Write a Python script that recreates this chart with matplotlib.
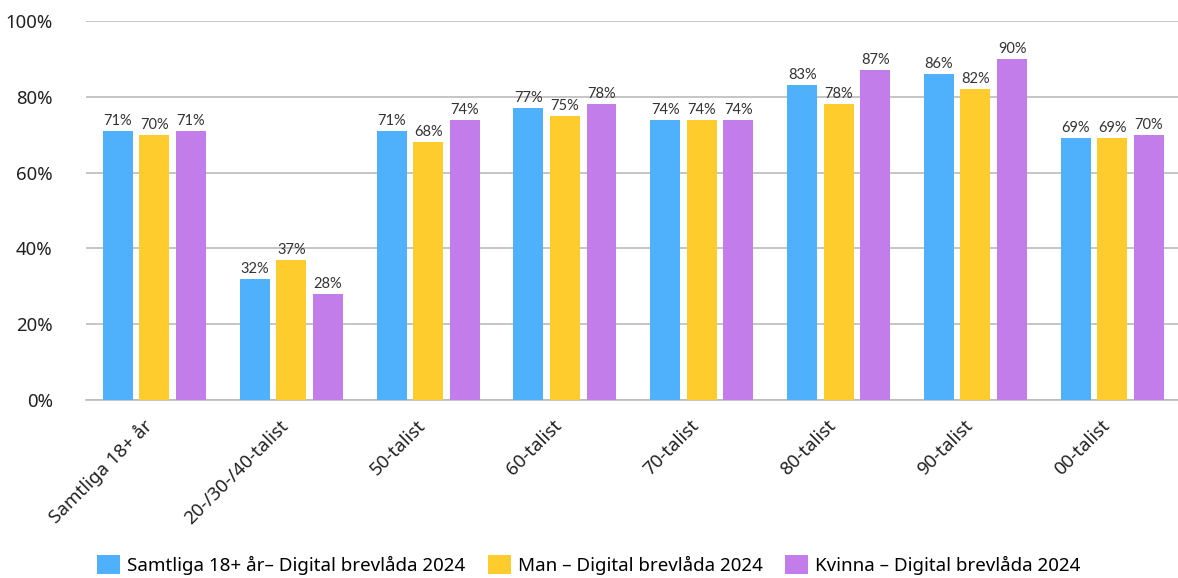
import numpy as np
import matplotlib.pyplot as plt
import matplotlib.transforms as mtransforms
from matplotlib.ticker import FuncFormatter

categories = ["Samtliga 18+ år", "20-/30-/40-talist", "50-talist", "60-talist",
              "70-talist", "80-talist", "90-talist", "00-talist"]
samtliga = [71, 32, 71, 77, 74, 83, 86, 69]
man = [70, 37, 68, 75, 74, 78, 82, 69]
kvinna = [71, 28, 74, 78, 74, 87, 90, 70]
series_names = ["Samtliga 18+ år– Digital brevlåda 2024",
                "Man – Digital brevlåda 2024",
                "Kvinna – Digital brevlåda 2024"]
colors = ["#4FB1FC", "#FFCC2E", "#C27DEA"]

plt.rcParams['font.family'] = ['Noto Sans', 'DejaVu Sans']

fig = plt.figure(figsize=(11.78, 5.78), dpi=100)
ax = fig.add_axes([86 / 1178, 1 - 400 / 578, (1178 - 86) / 1178, (400 - 21) / 578])

x = np.arange(len(categories))
w = 0.219
off = 0.267
for i, (vals, name, c) in enumerate(zip([samtliga, man, kvinna], series_names, colors)):
    bars = ax.bar(x + (i - 1) * off, vals, w, color=c, label=name, zorder=3)
    for b, v in zip(bars, vals):
        ax.text(b.get_x() + b.get_width() / 2, v + 0.8, f"{v}%", ha='center', va='bottom',
                fontsize=10.5, color='#333333', family='Lato')

ax.set_xlim(-0.5, 7.48)
ax.set_ylim(0, 100)
ax.set_yticks(range(0, 101, 20))
ax.yaxis.set_major_formatter(FuncFormatter(lambda v, p: f"{int(v)}%"))
ax.grid(axis='y', color='#bbbbbb', linewidth=1.2, zorder=0)
for s in ['top', 'right', 'left']:
    ax.spines[s].set_visible(False)
ax.spines['bottom'].set_color('#bbbbbb')
ax.spines['bottom'].set_linewidth(1.2)
ax.tick_params(length=0)
ax.tick_params(axis='y', labelsize=13.4, pad=24, labelcolor='#222222')
ax.set_xticks(x)
ax.set_xticklabels(categories, rotation=45, ha='right', rotation_mode='anchor',
                   fontsize=13.5, color='#222222')
ax.tick_params(axis='x', pad=12)
shift = mtransforms.ScaledTranslation(-12 / 100, 0, fig.dpi_scale_trans)
for lab in ax.get_xticklabels():
    lab.set_transform(lab.get_transform() + shift)

ax.legend(loc='center', bbox_to_anchor=(589 / 1178, 1 - 565 / 578), bbox_transform=fig.transFigure,
          ncol=3, frameon=False, fontsize=13.5, handlelength=1.2, handleheight=1.2,
          columnspacing=1.2, handletextpad=0.4)

fig.savefig("out.png", dpi=100)
